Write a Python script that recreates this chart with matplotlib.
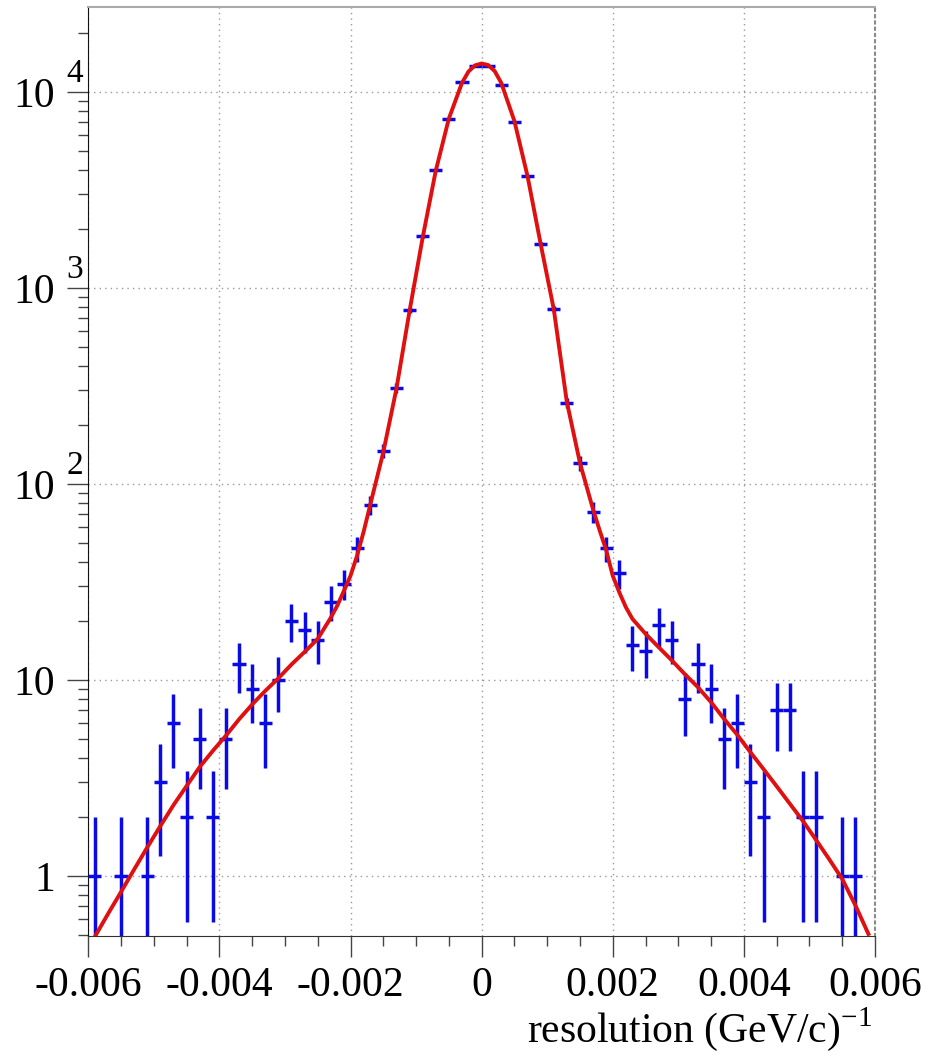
#!/usr/bin/env python3
"""Momentum resolution histogram (log scale) with fitted curve, ROOT style."""

import numpy as np
import matplotlib
matplotlib.use("Agg")
import matplotlib.pyplot as plt
from matplotlib.ticker import FixedLocator, FixedFormatter, MultipleLocator, LogLocator, NullFormatter
from matplotlib.transforms import blended_transform_factory

plt.rcParams["font.family"] = ["Liberation Serif", "DejaVu Serif"]
plt.rcParams["mathtext.fontset"] = "custom"
plt.rcParams["mathtext.rm"] = "Liberation Serif"

# histogram: 60 bins between -0.006 and 0.006
bin_edges = np.linspace(-0.006, 0.006, 61)
counts = [
    1, 0, 1, 0, 1, 3, 6, 2, 5, 2,
    5, 12, 9, 6, 10, 20, 18, 16, 25, 31,
    47, 78, 148, 308, 770, 1835, 4015, 7300, 11200, 13550,
    13550, 10900, 7050, 3715, 1676, 782, 259, 128, 72, 47,
    35, 15, 14, 19, 16, 8, 12, 9, 5, 6,
    3, 2, 7, 7, 2, 2, 0, 1, 1, 0,
]

# fitted curve
fit_x = [-0.0059, -0.0057, -0.0055, -0.0053, -0.0051, -0.0049, -0.0047, -0.0045,
         -0.0043, -0.0041, -0.0039, -0.0037, -0.0035, -0.0033, -0.0031, -0.0029,
         -0.0027, -0.0025, -0.0023, -0.0022, -0.0021, -0.0020, -0.0019, -0.0018,
         -0.0017, -0.0015, -0.0013, -0.0011, -0.0009, -0.0007, -0.0005, -0.0003,
         -0.0002, -0.0001, 0.0, 0.0001, 0.0002, 0.0003, 0.0005, 0.0007, 0.0009,
         0.0011, 0.0013, 0.0015, 0.0017, 0.0018, 0.0019, 0.0020, 0.0021, 0.0022,
         0.0023, 0.0025, 0.0027, 0.0029, 0.0031, 0.0033, 0.0035, 0.0037, 0.0039,
         0.0041, 0.0043, 0.0045, 0.0047, 0.0049, 0.0051, 0.0053, 0.0055, 0.0057,
         0.0059]
fit_y = [0.49, 0.64, 0.83, 1.08, 1.40, 1.80, 2.30, 2.88,
         3.60, 4.35, 5.20, 6.30, 7.50, 8.80, 10.2, 12.0,
         13.9, 16.2, 20.8, 24.0, 28.5, 34.0, 43.0, 57.0,
         78, 145, 305, 760, 1800, 3950, 7300, 11100,
         12700, 13650, 13950, 13700, 12750, 11100, 7100, 3720, 1680,
         780, 262, 128, 74, 58, 46, 34.0, 28.0, 23.5,
         20.5, 17.2, 14.7, 12.6, 10.7, 9.18, 7.70, 6.32, 5.25,
         4.28, 3.51, 2.87, 2.34, 1.91, 1.53, 1.22, 0.966, 0.71,
         0.506]

x_tick_vals = [-0.006, -0.004, -0.002, 0.0, 0.002, 0.004, 0.006]
x_tick_labels = ["-0.006", "-0.004", "-0.002", "0", "0.002", "0.004", "0.006"]
y_tick_vals = [1, 10, 100, 1000, 10000]
y_tick_labels = ["1", "10", "10", "10", "10"]
y_exponents = {100: "2", 1000: "3", 10000: "4"}


def main():
    edges = np.array(bin_edges)
    centers = 0.5 * (edges[:-1] + edges[1:])
    half = 0.5 * np.diff(edges)
    n = np.array(counts, dtype=float)
    keep = n > 0
    err = np.sqrt(n[keep])
    lower = np.minimum(err, n[keep] * 0.999)

    fig = plt.figure(figsize=(9.36, 10.56), dpi=100)
    ax = fig.add_axes([0.0943, 0.1136, 0.8405, 0.8795])

    ax.errorbar(centers[keep], n[keep], xerr=half[keep], yerr=[lower, err],
                fmt="none", ecolor="#0a0ae6", elinewidth=2.5, capsize=0, zorder=3)
    ax.plot(fit_x, fit_y, color="#e01010", lw=2.8, solid_joinstyle="round", zorder=4)

    ax.set_yscale("log")
    ax.set_xlim(-0.006, 0.006)
    ax.set_ylim(0.494, 27000)

    ax.xaxis.set_major_locator(FixedLocator(x_tick_vals))
    ax.xaxis.set_major_formatter(FixedFormatter(x_tick_labels))
    ax.xaxis.set_minor_locator(MultipleLocator(0.0005))
    ax.yaxis.set_major_locator(FixedLocator(y_tick_vals))
    ax.yaxis.set_major_formatter(FixedFormatter(y_tick_labels))
    ax.yaxis.set_minor_locator(LogLocator(base=10, subs=np.arange(2, 10)))
    ax.yaxis.set_minor_formatter(NullFormatter())

    ax.tick_params(which="both", direction="out", color="#444444", width=1.0,
                   top=False, right=False)
    ax.tick_params(which="major", length=15, labelsize=30)
    ax.tick_params(which="minor", length=7.5)
    ax.tick_params(axis="x", which="major", pad=7)
    ax.tick_params(axis="y", which="major", pad=9)

    ax.grid(True, which="major", color="#9a9a9a", linestyle=(0, (1, 3)), lw=1.0)

    ax.spines["left"].set_color("#111111")
    ax.spines["bottom"].set_color("#333333")
    ax.spines["top"].set_color("#aaaaaa")
    ax.spines["top"].set_linewidth(1.5)
    ax.spines["right"].set_color("#8a8a8a")
    ax.spines["right"].set_linestyle((0, (1, 2)))
    ax.spines["right"].set_linewidth(1.5)

    # ROOT-style exponents hanging to the right of the "10" labels
    trans = blended_transform_factory(ax.transAxes, ax.transData)
    for val, exp in y_exponents.items():
        ax.text(-0.028, val * 1.03, exp, transform=trans, fontsize=24,
                ha="left", va="bottom", clip_on=False)

    fig.text(0.932, 0.0135, r"resolution (GeV/c)$^{-1}$", fontsize=30,
             ha="right", va="baseline")

    fig.savefig("out.png", dpi=100, facecolor="white")


if __name__ == "__main__":
    main()
